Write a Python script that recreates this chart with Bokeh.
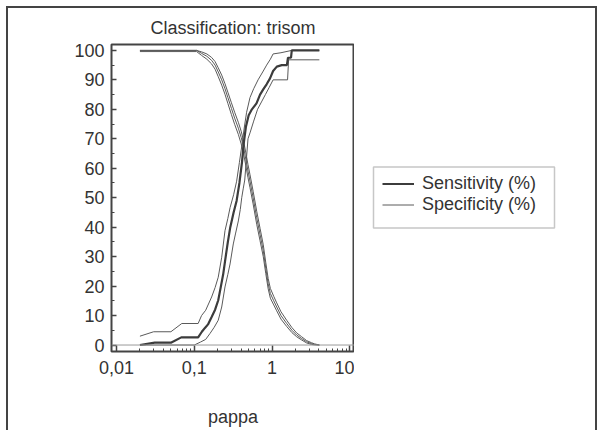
from bokeh.plotting import figure
from bokeh.layouts import row
from bokeh.models import FixedTicker, Span, Legend, LegendItem, Range1d, BoxAnnotation
from bokeh.embed import file_html
from bokeh.resources import INLINE

# ---- data ----
title_text = "Classification: trisom"
x_label = "pappa"
legend_labels = ["Sensitivity (%)", "Specificity (%)"]

x_ticks = [0.01, 0.1, 1, 10]
x_tick_labels = ["0,01", "0,1", "1", "10"]
x_minor = [0.02, 0.03, 0.04, 0.05, 0.06, 0.07, 0.08, 0.09,
           0.2, 0.3, 0.4, 0.5, 0.6, 0.7, 0.8, 0.9,
           2, 3, 4, 5, 6, 7, 8, 9]
y_ticks = [0, 10, 20, 30, 40, 50, 60, 70, 80, 90, 100]
y_minor = [5, 15, 25, 35, 45, 55, 65, 75, 85, 95]

# Sensitivity (thick) and its confidence limits
sens_x = [0.02, 0.031, 0.05, 0.068, 0.112, 0.125, 0.137, 0.15, 0.167, 0.185, 0.203, 0.22,
          0.235, 0.25, 0.27, 0.29, 0.32, 0.35, 0.38, 0.41, 0.43, 0.46, 0.5, 0.55, 0.63,
          0.7, 0.78, 0.85, 0.94, 1.03, 1.15, 1.33, 1.55, 1.6, 1.75, 1.79, 4.05]
sens_y = [0, 0.8, 0.8, 2.6, 2.6, 4.5, 5.8, 7, 9.5, 12, 15.2, 20,
          24, 29, 35, 40, 45, 49, 55, 62, 68, 74, 78, 80, 82,
          85, 87, 88.5, 90.5, 93, 94.5, 95, 95, 97.5, 97.5, 100, 100]

sens_hi_x = [0.02, 0.03, 0.05, 0.069, 0.112, 0.124, 0.14, 0.167, 0.185, 0.203, 0.225, 0.248,
             0.27, 0.288, 0.32, 0.35, 0.38, 0.41, 0.44, 0.47, 0.52, 0.58, 0.66, 0.77, 0.85,
             0.95, 1.03, 1.3, 1.79, 4.05]
sens_hi_y = [3, 4.5, 4.5, 7.3, 7.3, 10, 11.8, 16.3, 19.5, 23, 29.8, 38.8,
             43, 46.6, 51, 55.6, 62, 68, 74, 79, 84, 87, 90, 93, 95,
             97, 98.8, 99.2, 100, 100]

sens_lo_x = [0.02, 0.1, 0.12, 0.14, 0.159, 0.18, 0.203, 0.225, 0.248, 0.27, 0.288, 0.317,
             0.34, 0.368, 0.39, 0.407, 0.425, 0.445, 0.47, 0.49, 0.52, 0.58, 0.65, 0.73,
             0.82, 0.92, 1.03, 1.58, 1.63, 4.05]
sens_lo_y = [0, 0, 1, 1.9, 3.9, 6, 8.4, 12.9, 19.7, 24, 27.5, 34.3,
             38, 42.1, 46, 50, 53, 56, 64, 70, 72, 76, 80, 82.5,
             85, 87.5, 90, 90, 96.8, 96.8]

# Specificity (thin) and its confidence limits
spec_x = [0.02, 0.107, 0.124, 0.145, 0.167, 0.185, 0.203, 0.225, 0.248, 0.27, 0.30, 0.33,
          0.368, 0.40, 0.427, 0.46, 0.49, 0.52, 0.57, 0.634, 0.70, 0.77, 0.83, 0.89, 0.95,
          1.05, 1.146, 1.3, 1.54, 1.8, 2.07, 2.4, 2.78, 3.2, 3.5, 4.05]
spec_y = [100, 100, 99, 98, 96.6, 95, 92.7, 90, 87, 84, 80.3, 77,
          73.6, 70.5, 67.5, 63, 59, 55.6, 50, 43.2, 37.5, 32, 26, 20.8, 17.5,
          15, 12.9, 10, 7.3, 5, 3.4, 2.2, 1.1, 0.5, 0.2, 0]
spec_hi_y = [100, 100, 99.5, 98.8, 97.6, 96.2, 94.1, 91.6, 88.7, 85.8, 82.2, 79,
             75.6, 72.6, 69.6, 65.2, 61.2, 57.8, 52.2, 45.4, 39.6, 34, 27.9, 22.6, 19.2,
             16.5, 14.3, 11.3, 8.4, 5.9, 4.1, 2.8, 1.5, 0.8, 0.4, 0]
spec_lo_y = [99.6, 99.6, 98.3, 97, 95.4, 93.6, 91.1, 88.2, 85.1, 82, 78.2, 74.9,
             71.5, 68.3, 65.3, 60.8, 56.8, 53.4, 47.9, 41, 35.4, 30, 24.2, 19.1, 15.9,
             13.6, 11.6, 8.8, 6.3, 4.2, 2.8, 1.7, 0.7, 0.2, 0.05, 0]

FONT = "Liberation Sans"
TXT = "#333333"
DARK = "#3c3c3c"
THIN = "#5a5a5a"

p = figure(x_axis_type="log", x_range=(0.00862, 11.46), y_range=(-2.2, 102),
           frame_width=243, frame_height=308,
           min_border_left=103, min_border_top=35, min_border_right=0, min_border_bottom=79,
           output_backend="svg", toolbar_location=None, title=title_text)

p.xgrid.visible = False
p.ygrid.visible = False
p.outline_line_color = "#444444"
p.outline_line_width = 2

p.title.text_font = FONT
p.title.text_font_size = "18px"
p.title.text_font_style = "normal"
p.title.text_color = TXT
p.title.align = "center"
p.title.standoff = 14

p.xaxis.ticker = FixedTicker(ticks=x_ticks, minor_ticks=x_minor)
p.xaxis.major_label_overrides = {t: l for t, l in zip(x_ticks, x_tick_labels)}
p.yaxis.ticker = FixedTicker(ticks=y_ticks, minor_ticks=y_minor)

for ax in (p.xaxis[0], p.yaxis[0]):
    ax.axis_line_color = None
    ax.major_tick_line_color = "#444444"
    ax.minor_tick_line_color = "#444444"
    ax.major_tick_line_width = 1.5
    ax.minor_tick_line_width = 1
    ax.major_tick_out = 0
    ax.minor_tick_out = 0
    ax.minor_tick_in = 3
    ax.major_label_text_font = FONT
    ax.major_label_text_font_size = "18px"
    ax.major_label_text_color = TXT
    ax.major_label_standoff = 7
p.xaxis.major_tick_in = 6
p.yaxis.major_tick_in = 5
p.xaxis.major_label_standoff = 9
p.xaxis.axis_label = x_label
p.xaxis.axis_label_text_font = FONT
p.xaxis.axis_label_text_font_size = "18px"
p.xaxis.axis_label_text_font_style = "normal"
p.xaxis.axis_label_text_color = TXT
p.xaxis.axis_label_standoff = 30

p.add_layout(Span(location=0, dimension="width", line_color="#999999", line_width=1))

p.line(sens_hi_x, sens_hi_y, line_color=THIN, line_width=1)
p.line(sens_lo_x, sens_lo_y, line_color=THIN, line_width=1)
p.line(spec_x, spec_hi_y, line_color=THIN, line_width=1)
p.line(spec_x, spec_lo_y, line_color=THIN, line_width=1)
p.line(spec_x, spec_y, line_color=THIN, line_width=1)
p.line(sens_x, sens_y, line_color=DARK, line_width=2.2)

# legend panel to the right of the chart: its frame is measured in pixels, and the
# series it holds for the legend keys sit on ranges that keep them out of view
q = figure(width=241, height=422, min_border=0, toolbar_location=None,
           x_range=Range1d(0, 241), y_range=Range1d(0, 308),
           x_axis_location=None, y_axis_location=None, output_backend="svg")
q.extra_x_ranges = {"off": Range1d(100, 101)}
q.extra_y_ranges = {"off": Range1d(200, 201)}
q.xgrid.visible = False
q.ygrid.visible = False
q.outline_line_color = None
k_sens = q.line(sens_x, sens_y, line_color=DARK, line_width=2.2,
                x_range_name="off", y_range_name="off")
k_spec = q.line(spec_x, spec_y, line_color=THIN, line_width=1,
                x_range_name="off", y_range_name="off")

q.add_layout(BoxAnnotation(left=19, right=200, bottom=124, top=185,
                           fill_color="white", fill_alpha=1,
                           line_color="#444444", line_width=1.5))

legend_style = dict(margin=0, padding=0, glyph_width=32, glyph_height=15, label_height=15,
                    label_standoff=8, label_text_font=FONT, label_text_font_size="18px",
                    label_text_color=TXT, border_line_color=None, background_fill_alpha=0)
q.add_layout(Legend(items=[LegendItem(label=legend_labels[0], renderers=[k_sens])],
                    location=(28, 157), **legend_style), "center")
q.add_layout(Legend(items=[LegendItem(label=legend_labels[1], renderers=[k_spec])],
                    location=(28, 136), **legend_style), "center")

page = row(p, q, width=591, height=424,
           styles={"margin-left": "6px", "margin-top": "6px",
                   "border-left": "2px solid #444444", "border-top": "2px solid #444444",
                   "border-right": "2px solid #444444"})

open("out.html", "w").write(file_html(page, INLINE))
